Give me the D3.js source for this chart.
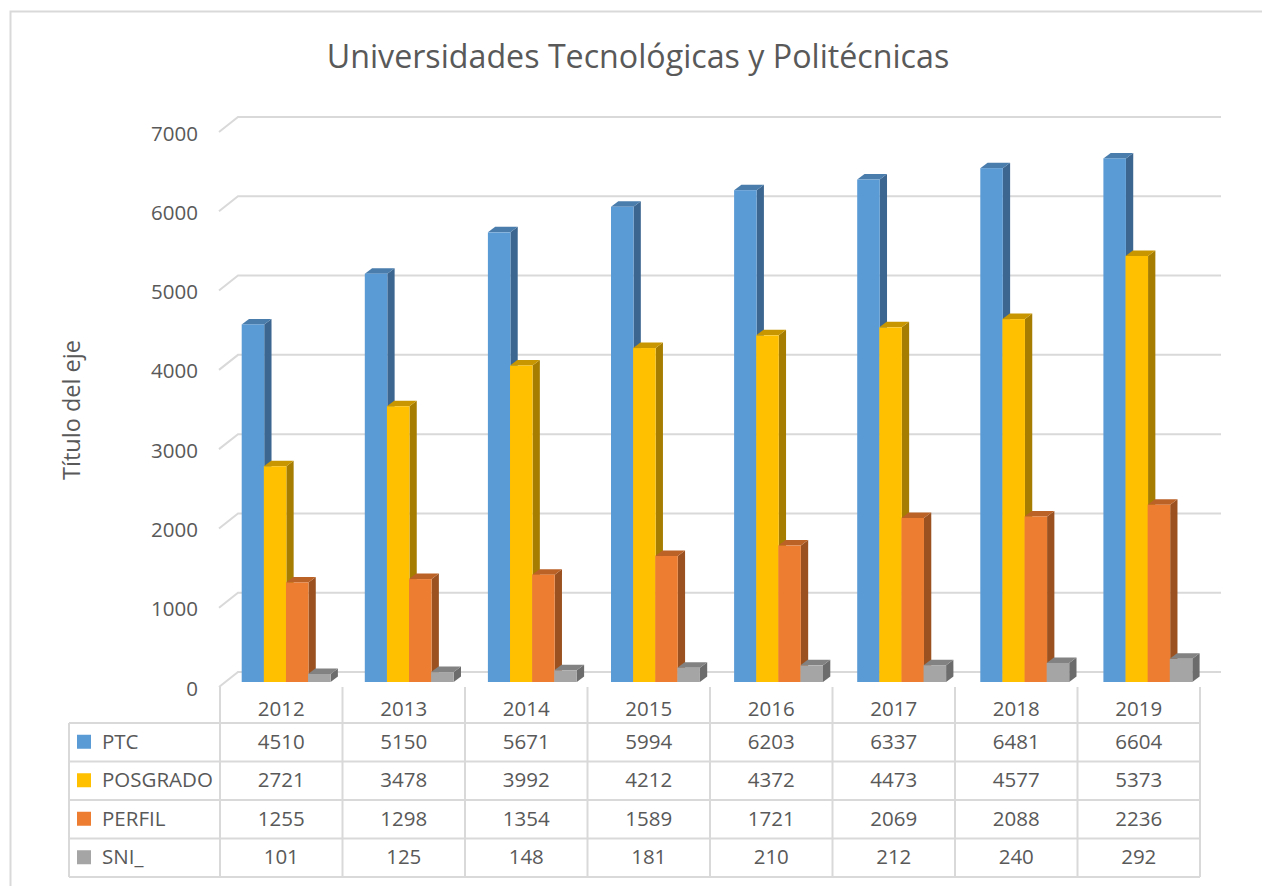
<!DOCTYPE html>
<html>
<head>
<meta charset="utf-8">
<script src="https://cdn.jsdelivr.net/npm/d3@7"></script>
<style>
  html, body { margin: 0; padding: 0; background: #fff; }
  text { font-family: "Open Sans", "Noto Sans", sans-serif; fill: #595959; }
</style>
</head>
<body>
<div id="graph"></div>
<script>
const years = ["2012", "2013", "2014", "2015", "2016", "2017", "2018", "2019"];
const ptc = [4510, 5150, 5671, 5994, 6203, 6337, 6481, 6604];
const posgrado = [2721, 3478, 3992, 4212, 4372, 4473, 4577, 5373];
const perfil = [1255, 1298, 1354, 1589, 1721, 2069, 2088, 2236];
const sni = [101, 125, 148, 181, 210, 212, 240, 292];
const seriesNames = ["PTC", "POSGRADO", "PERFIL", "SNI_"];
const yTicks = [0, 1000, 2000, 3000, 4000, 5000, 6000, 7000];

const seriesValues = [ptc, posgrado, perfil, sni];
// front, top, side of each bar
const shades = [
  ["#5b9bd5", "#4a7dac", "#3c6690"],
  ["#ffc000", "#c79600", "#a67d00"],
  ["#ed7d31", "#bb6227", "#9b5220"],
  ["#a5a5a5", "#828282", "#6c6c6c"]
];

const width = 1262, height = 886;
const gridColor = "#d9d9d9";
const labelSize = 20.5;

const svg = d3.select("#graph").append("svg")
  .attr("width", width)
  .attr("height", height)
  .style("display", "block");

// outer chart frame, only top and left show
svg.append("path")
  .attr("d", "M10.5,886V11.5H1262")
  .attr("fill", "none")
  .attr("stroke", gridColor)
  .attr("stroke-width", 2);

// Front plane of the axes, the walls sit behind it by (wallDx, wallDy)
const wallDx = 19, wallDy = -15;
const barDx = 7.3, barDy = -5.5;
const yscale = d3.scaleLinear().domain([0, 7000]).range([687, 132]);
// table columns are a little narrower than the bar groups in the picture
const xscale = d3.scaleBand().domain(years).range([220, 1200]);
const barScale = d3.scaleBand().domain(years).range([241.7, 1226.5]);
const seriesScale = d3.scaleBand().domain(seriesNames).range([0, 88.5]);
const barBaseShift = -5;

// Gridlines with the short diagonal on the side wall
svg.append("g").selectAll("path")
  .data(yTicks)
  .enter()
  .append("path")
  .attr("d", d => "M" + 219 + "," + yscale(d)
    + "L" + (219 + wallDx) + "," + (yscale(d) + wallDy)
    + "H1221")
  .attr("fill", "none")
  .attr("stroke", gridColor)
  .attr("stroke-width", 2);

// Y axis labels
const y_axis = d3.axisLeft(yscale).tickValues(yTicks).tickSize(0).tickPadding(0).tickFormat(d3.format("d"));
const yAxisG = svg.append("g")
  .attr("transform", "translate(198,1.5)")
  .call(y_axis);
yAxisG.select(".domain").remove();
yAxisG.attr("font-family", null);
yAxisG.selectAll("text").attr("font-size", labelSize);

// Bars, drawn series by series from the back-right so overlaps stay right
const barLayer = svg.append("g");
years.forEach(function (year, i) {
  seriesNames.forEach(function (name, s) {
    const v = seriesValues[s][i];
    const x0 = barScale(year) + seriesScale(name);
    const w = seriesScale.bandwidth() + 0.4;
    const yBase = yscale(0) + barBaseShift;
    const yTop = yscale(v) + barBaseShift;
    const g = barLayer.append("g");
    // side
    g.append("path")
      .attr("d", "M" + (x0 + w) + "," + yBase
        + "L" + (x0 + w + barDx) + "," + (yBase + barDy)
        + "L" + (x0 + w + barDx) + "," + (yTop + barDy)
        + "L" + (x0 + w) + "," + yTop + "Z")
      .attr("fill", shades[s][2]);
    // top
    g.append("path")
      .attr("d", "M" + x0 + "," + yTop
        + "L" + (x0 + barDx) + "," + (yTop + barDy)
        + "L" + (x0 + w + barDx) + "," + (yTop + barDy)
        + "L" + (x0 + w) + "," + yTop + "Z")
      .attr("fill", shades[s][1]);
    // front
    g.append("rect")
      .attr("x", x0)
      .attr("y", yTop)
      .attr("width", w)
      .attr("height", yBase - yTop)
      .attr("fill", shades[s][0]);
  });
});

// Data table
const rowY = [723, 761.5, 800, 838.5, 877];
const tableLeft = 69;
const table = svg.append("g");

const tableLine = function (x1, y1, x2, y2) {
  table.append("line")
    .attr("x1", x1).attr("y1", y1)
    .attr("x2", x2).attr("y2", y2)
    .attr("stroke", gridColor)
    .attr("stroke-width", 2);
};

rowY.forEach(y => tableLine(tableLeft, y, 1200, y));
tableLine(tableLeft, rowY[0], tableLeft, rowY[4]);
years.forEach(y => tableLine(xscale(y), 687, xscale(y), rowY[4]));
tableLine(1200, 687, 1200, rowY[4]);

table.selectAll(".year")
  .data(years)
  .enter()
  .append("text")
  .attr("class", "year")
  .attr("x", d => xscale(d) + xscale.bandwidth() / 2)
  .attr("y", 709)
  .attr("dy", "0.35em")
  .attr("text-anchor", "middle")
  .attr("font-size", labelSize)
  .text(d => d);

seriesNames.forEach(function (name, s) {
  const mid = (rowY[s] + rowY[s + 1]) / 2 - 0.5;
  table.append("rect")
    .attr("x", 77)
    .attr("y", mid - 7)
    .attr("width", 14)
    .attr("height", 14)
    .attr("fill", shades[s][0]);
  table.append("text")
    .attr("x", 102)
    .attr("y", mid)
    .attr("dy", "0.35em")
    .attr("font-size", labelSize)
    .text(name);
  table.selectAll(".v" + s)
    .data(seriesValues[s])
    .enter()
    .append("text")
    .attr("x", (d, i) => xscale(years[i]) + xscale.bandwidth() / 2)
    .attr("y", mid)
    .attr("dy", "0.35em")
    .attr("text-anchor", "middle")
    .attr("font-size", labelSize)
    .text(d => d);
});

// Title and axis title
svg.append("text")
  .attr("x", 638)
  .attr("y", 57)
  .attr("dy", "0.35em")
  .attr("text-anchor", "middle")
  .attr("font-size", 32.2)
  .text("Universidades Tecnológicas y Politécnicas");

svg.append("text")
  .attr("transform", "translate(72,410) rotate(-90)")
  .attr("dy", "0.35em")
  .attr("text-anchor", "middle")
  .attr("font-size", 23.5)
  .text("Título del eje");
</script>
</body>
</html>
